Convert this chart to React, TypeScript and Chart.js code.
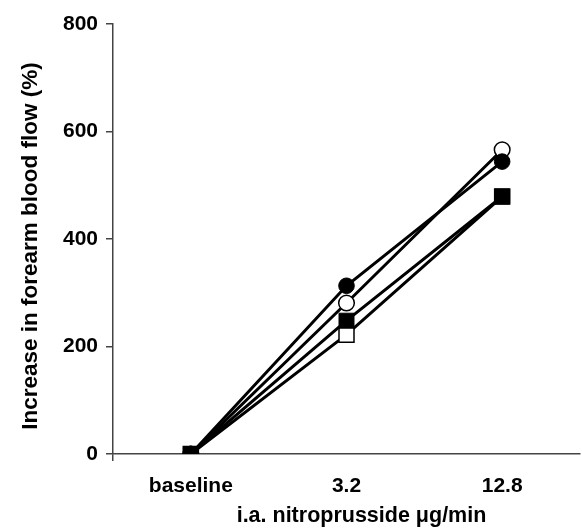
import React, { useEffect, useRef } from "react";
import { Chart, registerables } from "chart.js";

Chart.register(...registerables);

const categories = ["baseline", "3.2", "12.8"];
const filledCircle = [0, 313, 544];
const filledSquare = [0, 248, 479];
const openCircle = [0, 281, 566];
const openSquare = [0, 222, 479];
const yTicks = [0, 200, 400, 600, 800];
const xTitle = "i.a. nitroprusside \u03bcg/min";
const yTitle = "Increase in forearm blood flow (%)";

const FONT = "'Liberation Sans', Arial, Helvetica, sans-serif";

const titlesPlugin = {
  id: "axisTitles",
  afterDraw(chart: any) {
    const { ctx, chartArea } = chart;
    ctx.save();
    ctx.fillStyle = "#000";
    ctx.textAlign = "center";
    ctx.textBaseline = "middle";
    ctx.font = `bold 21.5px ${FONT}`;
    ctx.fillText(xTitle, (chartArea.left + chartArea.right) / 2 + 15, 516);
    ctx.translate(31, (chartArea.top + chartArea.bottom) / 2 + 7);
    ctx.rotate(-Math.PI / 2);
    ctx.font = `bold 22.5px ${FONT}`;
    ctx.fillText(yTitle, 0, 0);
    ctx.restore();
  },
};

export default function App() {
  const ref = useRef<HTMLCanvasElement | null>(null);

  useEffect(() => {
    if (!ref.current) return;
    const base = {
      borderColor: "#000",
      borderWidth: 3,
      pointBorderColor: "#000",
      fill: false,
      tension: 0,
    };
    const chart = new Chart(ref.current, {
      type: "line",
      data: {
        labels: categories,
        datasets: [
          {
            ...base,
            label: "filled circle",
            data: filledCircle,
            pointStyle: "circle",
            pointRadius: 7.8,
            pointBackgroundColor: "#000",
            pointBorderWidth: 1,
          },
          {
            ...base,
            label: "filled square",
            data: filledSquare,
            pointStyle: "rect",
            pointRadius: 10.6,
            pointBackgroundColor: "#000",
            pointBorderWidth: 1,
          },
          {
            ...base,
            label: "open circle",
            data: openCircle,
            pointStyle: "circle",
            pointRadius: 7.8,
            pointBackgroundColor: "#fff",
            pointBorderWidth: 1.5,
          },
          {
            ...base,
            label: "open square",
            data: openSquare,
            pointStyle: "rect",
            pointRadius: 10.6,
            pointBackgroundColor: "#fff",
            pointBorderWidth: 1.5,
          },
        ],
      },
      plugins: [titlesPlugin],
      options: {
        responsive: false,
        devicePixelRatio: 1,
        animation: false,
        layout: { autoPadding: false, padding: { top: 24, right: 2, left: 0, bottom: 0 } },
        plugins: { legend: { display: false }, tooltip: { enabled: false } },
        scales: {
          x: {
            type: "category",
            offset: true,
            border: { display: true, color: "#444", width: 1.5 },
            grid: {
              offset: true,
              drawOnChartArea: false,
              drawTicks: true,
              tickLength: 7,
              lineWidth: 1.5,
              color: (ctx: any) =>
                ctx.index === 0 || ctx.index === categories.length ? "#444" : "rgba(0,0,0,0)",
            },
            ticks: {
              color: "#000",
              padding: 13,
              font: { family: FONT, size: 21, weight: "bold" },
            },
            title: { display: false },
            afterFit: (scale: any) => {
              scale.height = 78;
              scale.paddingLeft = 0;
              scale.paddingRight = 0;
            },
          },
          y: {
            min: 0,
            max: 800,
            afterBuildTicks: (scale: any) => {
              scale.ticks = yTicks.map((v) => ({ value: v }));
            },
            border: { display: true, color: "#444", width: 1.5 },
            grid: {
              drawOnChartArea: false,
              drawTicks: true,
              tickLength: 7,
              lineWidth: 1.5,
              color: "#444",
            },
            ticks: {
              color: "#000",
              padding: 8,
              font: { family: FONT, size: 21, weight: "bold" },
            },
            title: { display: false },
            afterFit: (scale: any) => {
              scale.width = 113;
            },
          },
        },
      },
    });
    return () => chart.destroy();
  }, []);

  return (
    <div style={{ position: "absolute", left: 0, top: 0, width: 582, height: 532, background: "#fff" }}>
      <canvas ref={ref} width={582} height={532} />
    </div>
  );
}
